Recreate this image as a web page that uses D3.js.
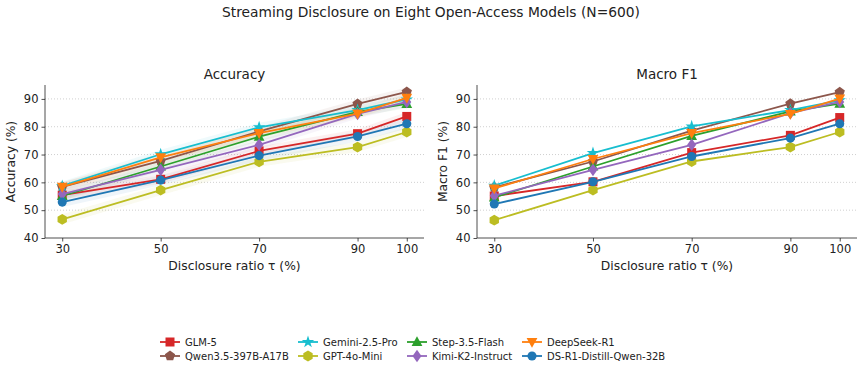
<!DOCTYPE html>
<html>
<head>
<meta charset="utf-8">
<script src="https://cdn.jsdelivr.net/npm/d3@7"></script>
<style>
  body { margin: 0; background: #fff; }
  text { font-family: "DejaVu Sans", sans-serif; fill: #222; }
</style>
</head>
<body>
<svg id="chart" width="863" height="369"></svg>
<script>
const ratios = [30, 50, 70, 90, 100]
const yTicks = [40, 50, 60, 70, 80, 90]

const models = ["GLM-5", "Qwen3.5-397B-A17B", "Gemini-2.5-Pro", "GPT-4o-Mini",
                "Step-3.5-Flash", "Kimi-K2-Instruct", "DeepSeek-R1", "DS-R1-Distill-Qwen-32B"]
const colors = ["#d62728", "#8c564b", "#17becf", "#bcbd22", "#2ca02c", "#9467bd", "#ff7f0e", "#1f77b4"]
const shapes = ["square", "pentagon", "star", "hexagon", "triUp", "diamond", "triDown", "circle"]

// accuracy per model (same order as models)
const accGLM = [55.4, 61.1, 71.3, 77.5, 83.7]
const accQwen = [58.4, 67.7, 78.3, 88.2, 92.5]
const accGemini = [58.7, 70.1, 79.8, 86.0, 89.8]
const accGPT = [46.7, 57.2, 67.4, 72.7, 78.1]
const accStep = [55.1, 65.7, 76.4, 85.3, 88.2]
const accKimi = [55.8, 64.5, 73.5, 84.6, 88.9]
const accDeepSeek = [58.4, 69.0, 77.7, 84.7, 90.4]
const accDistill = [52.9, 60.8, 69.6, 76.5, 81.1]
// half width of the shaded band on accuracy
const accBand = [1.6, 1.6, 1.6, 1.8, 1.6, 1.6, 1.6, 1.8]

// macro F1 per model
const f1GLM = [55.1, 60.2, 70.7, 76.9, 83.3]
const f1Qwen = [58.2, 67.5, 78.6, 88.3, 92.4]
const f1Gemini = [58.8, 70.5, 80.1, 86.0, 89.5]
const f1GPT = [46.4, 57.2, 67.5, 72.7, 78.1]
const f1Step = [54.6, 65.7, 76.7, 85.5, 88.3]
const f1Kimi = [55.2, 64.5, 73.5, 84.9, 88.9]
const f1DeepSeek = [57.8, 68.4, 77.7, 84.6, 90.1]
const f1Distill = [52.2, 60.2, 69.3, 75.9, 81.1]

const accData = [accGLM, accQwen, accGemini, accGPT, accStep, accKimi, accDeepSeek, accDistill]
const f1Data = [f1GLM, f1Qwen, f1Gemini, f1GPT, f1Step, f1Kimi, f1DeepSeek, f1Distill]

const svg = d3.select("#chart")

svg.append("text")
    .attr("x", 431).attr("y", 17)
    .attr("text-anchor", "middle")
    .style("font-size", "13.8px")
    .text("Streaming Disclosure on Eight Open-Access Models (N=600)")

function symbolPath(shape, s) {
    switch (shape) {
        case "square": return d3.symbol(d3.symbolSquare, s * s)()
        case "circle": return d3.symbol(d3.symbolCircle, s * s * 0.8)()
        case "diamond": return `M0,${-s * 0.7}L${s * 0.5},0L0,${s * 0.7}L${-s * 0.5},0Z`
        case "triUp": return `M0,${-s * 0.65}L${s * 0.6},${s * 0.45}L${-s * 0.6},${s * 0.45}Z`
        case "triDown": return `M0,${s * 0.65}L${s * 0.6},${-s * 0.45}L${-s * 0.6},${-s * 0.45}Z`
        case "star": return d3.symbol(d3.symbolStar, s * s * 0.6)()
        case "pentagon":
        case "hexagon": {
            const n = shape == "pentagon" ? 5 : 6
            const r = s * 0.6
            let pts = d3.range(n).map(i => {
                const a = -Math.PI / 2 + i * 2 * Math.PI / n
                return [r * Math.cos(a), r * Math.sin(a)]
            })
            return "M" + pts.map(p => p.join(",")).join("L") + "Z"
        }
    }
}

function panel(left, right, title, ylabel, data, band) {
    const top = 85, bottom = 238
    const x = d3.scaleLinear().domain([26.5, 103.5]).range([left, right])
    const y = d3.scaleLinear().domain([40, 95]).range([bottom, top])
    const g = svg.append("g")

    // grid
    g.selectAll("line.grid")
        .data(yTicks.slice(1))
        .join("line")
        .attr("x1", left).attr("x2", right)
        .attr("y1", d => y(d)).attr("y2", d => y(d))
        .attr("stroke", "#bbb").attr("stroke-width", 0.7)
        .attr("stroke-dasharray", "1,2")

    const xAxis = g.append("g")
        .attr("transform", `translate(0, ${bottom})`)
        .call(d3.axisBottom(x).tickValues(ratios).tickSize(3.5).tickPadding(3))
    const yAxis = g.append("g")
        .attr("transform", `translate(${left}, 0)`)
        .call(d3.axisLeft(y).tickValues(yTicks).tickSize(3.5).tickPadding(3))
    for (const ax of [xAxis, yAxis]) {
        ax.selectAll("text").style("font-size", "11.5px").attr("fill", "#222")
        ax.selectAll("line").attr("stroke", "#222").attr("stroke-width", 0.8)
        ax.select(".domain").attr("stroke", "#222").attr("stroke-width", 0.8)
    }
    xAxis.select(".domain").attr("d", `M${left},0H${right}`)
    yAxis.select(".domain").attr("d", `M0,${bottom}V${top}`)

    g.append("text")
        .attr("x", (left + right) / 2).attr("y", 79)
        .attr("text-anchor", "middle")
        .style("font-size", "13.5px")
        .text(title)
    g.append("text")
        .attr("x", (left + right) / 2).attr("y", 270)
        .attr("text-anchor", "middle")
        .style("font-size", "12.3px")
        .text("Disclosure ratio τ (%)")
    g.append("text")
        .attr("transform", `translate(${left - 30}, ${(top + bottom) / 2}) rotate(-90)`)
        .attr("text-anchor", "middle")
        .style("font-size", "12.3px")
        .text(ylabel)

    if (band) {
        const area = d3.area()
            .x((d, i) => x(ratios[i]))
            .y0((d, i) => y(d.v - d.b))
            .y1((d, i) => y(d.v + d.b))
        g.selectAll("path.band")
            .data(data)
            .join("path")
            .attr("d", (d, k) => area(d.map(v => ({v: v, b: band[k]}))))
            .attr("fill", (d, k) => colors[k])
            .attr("opacity", 0.07)
    }

    const line = d3.line().x((d, i) => x(ratios[i])).y(d => y(d))
    data.forEach((vals, k) => {
        g.append("path")
            .attr("d", line(vals))
            .attr("fill", "none")
            .attr("stroke", colors[k])
            .attr("stroke-width", 1.8)
        g.selectAll(null)
            .data(vals)
            .join("path")
            .attr("transform", (d, i) => `translate(${x(ratios[i])}, ${y(d)})`)
            .attr("d", symbolPath(shapes[k], 9))
            .attr("fill", colors[k])
    })
}

panel(45, 424, "Accuracy", "Accuracy (%)", accData, accBand)
panel(477, 857, "Macro F1", "Macro F1 (%)", f1Data, null)

// legend, 4 columns x 2 rows, filled column first
const colX = [160, 298, 407, 522]
const rowY = [342, 356]
const leg = svg.append("g")
models.forEach((m, k) => {
    const cx = colX[Math.floor(k / 2)], cy = rowY[k % 2]
    leg.append("line")
        .attr("x1", cx).attr("x2", cx + 20)
        .attr("y1", cy).attr("y2", cy)
        .attr("stroke", colors[k]).attr("stroke-width", 1.8)
    leg.append("path")
        .attr("transform", `translate(${cx + 10}, ${cy})`)
        .attr("d", symbolPath(shapes[k], 9))
        .attr("fill", colors[k])
    leg.append("text")
        .attr("x", cx + 25).attr("y", cy + 3.5)
        .style("font-size", "10px")
        .text(m)
})
</script>
</body>
</html>
